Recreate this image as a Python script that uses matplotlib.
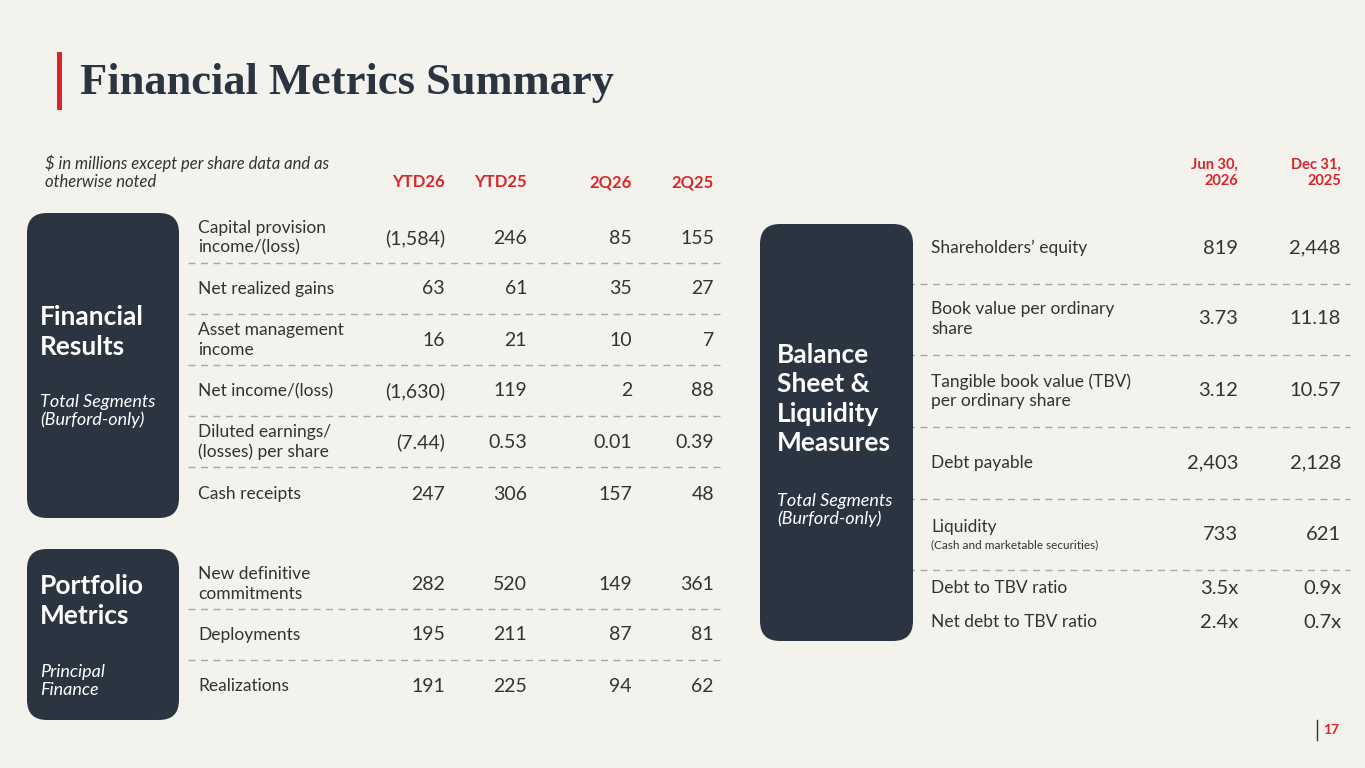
import matplotlib
matplotlib.use("Agg")
import matplotlib.pyplot as plt
from matplotlib.patches import FancyBboxPatch, Rectangle

BG = "#F4F2EC"
NAVY = "#2B3542"
RED = "#D9252A"
TXT = "#333333"
DASH = "#A8A8A8"
SANS = ["Lato", "DejaVu Sans"]

# ---- data ----
left_cols = ["YTD26", "YTD25", "2Q26", "2Q25"]
fin_labels = ["Capital provision\nincome/(loss)", "Net realized gains",
              "Asset management\nincome", "Net income/(loss)",
              "Diluted earnings/\n(losses) per share", "Cash receipts"]
fin_values = [["(1,584)", "246", "85", "155"],
              ["63", "61", "35", "27"],
              ["16", "21", "10", "7"],
              ["(1,630)", "119", "2", "88"],
              ["(7.44)", "0.53", "0.01", "0.39"],
              ["247", "306", "157", "48"]]
port_labels = ["New definitive\ncommitments", "Deployments", "Realizations"]
port_values = [["282", "520", "149", "361"],
               ["195", "211", "87", "81"],
               ["191", "225", "94", "62"]]

right_cols = ["Jun 30,\n2026", "Dec 31,\n2025"]
bs_labels = ["Shareholders\u2019 equity", "Book value per ordinary\nshare",
             "Tangible book value (TBV)\nper ordinary share", "Debt payable",
             "Liquidity", "Debt to TBV ratio", "Net debt to TBV ratio"]
bs_values = [["819", "2,448"], ["3.73", "11.18"], ["3.12", "10.57"],
             ["2,403", "2,128"], ["733", "621"], ["3.5x", "0.9x"], ["2.4x", "0.7x"]]

# ---- layout (pixel space) ----
fin_y = [238, 289, 340, 391, 442, 494]
fin_sep = [263, 314, 365, 416, 467]
port_y = [584, 635, 686]
port_sep = [609, 660]
left_col_x = [445, 527, 632, 714]
bs_y = [248, 319, 391, 463, 534, 588, 622]
bs_sep = [284, 355, 427, 499, 570]
right_col_x = [1238, 1341]

LAB = 12.5
VAL = 14

fig = plt.figure(figsize=(13.65, 7.68), dpi=100, facecolor=BG)
ax = fig.add_axes([0, 0, 1, 1])
ax.set_xlim(0, 1365)
ax.set_ylim(768, 0)
ax.axis("off")
ax.set_facecolor(BG)

# title
ax.add_patch(Rectangle((57, 52), 5, 58, color=RED, lw=0))
ax.text(80, 83, "Financial Metrics Summary", fontsize=32, fontweight="bold",
        family=["Liberation Serif", "DejaVu Serif"], color=NAVY, va="center",
        ha="left")


def box(x0, y0, x1, y1):
    ax.add_patch(FancyBboxPatch((x0, y0), x1 - x0, y1 - y0,
                                boxstyle="round,pad=0,rounding_size=20",
                                fc=NAVY, ec="none", zorder=2.5))


def dashes(x0, x1, y):
    ax.plot([x0, x1], [y, y], color=DASH, lw=1, ls=(0, (5, 4)), zorder=2)


# left header
ax.text(45, 172, "$ in millions except per share data and as\notherwise noted",
        fontsize=12, style="italic", family=SANS, color=TXT, va="center",
        linespacing=1.15)
for c, x in zip(left_cols, left_col_x):
    ax.text(x, 182, c, fontsize=12, fontweight="bold", family=SANS, color=RED,
            ha="right", va="center")

# financial results box
box(27, 213, 179, 518)
ax.text(40, 332, "Financial\nResults", fontsize=19, fontweight="bold", family=SANS,
        color="white", va="center", linespacing=1.27)
ax.text(40, 411, "Total Segments\n(Burford-only)", fontsize=13, style="italic",
        family=SANS, color="white", va="center", linespacing=1.1)

for lab, vals, y in zip(fin_labels, fin_values, fin_y):
    ax.text(198, y, lab, fontsize=LAB, family=SANS, color=TXT, va="center",
            linespacing=1.25)
    for v, x in zip(vals, left_col_x):
        ax.text(x, y, v, fontsize=VAL, family=SANS, color=TXT, ha="right",
                va="center")
for y in fin_sep:
    dashes(188, 720, y)

# portfolio box
box(27, 549, 179, 720)
ax.text(40, 601, "Portfolio\nMetrics", fontsize=19, fontweight="bold", family=SANS,
        color="white", va="center", linespacing=1.27)
ax.text(40, 681, "Principal\nFinance", fontsize=13, style="italic",
        family=SANS, color="white", va="center", linespacing=1.1)

for lab, vals, y in zip(port_labels, port_values, port_y):
    ax.text(198, y, lab, fontsize=LAB, family=SANS, color=TXT, va="center",
            linespacing=1.25)
    for v, x in zip(vals, left_col_x):
        ax.text(x, y, v, fontsize=VAL, family=SANS, color=TXT, ha="right",
                va="center")
for y in port_sep:
    dashes(188, 720, y)

# right side
for c, x in zip(right_cols, right_col_x):
    ax.text(x, 173, c, fontsize=10.5, fontweight="bold", family=SANS, color=RED,
            ha="right", va="center", multialignment="right", linespacing=1.2)

box(760, 224, 913, 641)
ax.text(777, 399, "Balance\nSheet &\nLiquidity\nMeasures", fontsize=19,
        fontweight="bold", family=SANS, color="white", va="center",
        linespacing=1.27)
ax.text(777, 510, "Total Segments\n(Burford-only)", fontsize=13, style="italic",
        family=SANS, color="white", va="center", linespacing=1.1)

for lab, vals, y in zip(bs_labels, bs_values, bs_y):
    ly = y - 7 if lab == "Liquidity" else y
    ax.text(931, ly, lab, fontsize=LAB, family=SANS, color=TXT, va="center",
            linespacing=1.25)
    if lab == "Liquidity":
        ax.text(931, y + 11, "(Cash and marketable securities)", fontsize=8.5,
                family=SANS, color=TXT, va="center")
    for v, x in zip(vals, right_col_x):
        ax.text(x, y, v, fontsize=14.5, family=SANS, color=TXT, ha="right",
                va="center")
for y in bs_sep:
    dashes(895, 1350, y)

# page number
ax.plot([1317, 1317], [720, 740], color=TXT, lw=1)
ax.text(1323, 730, "17", fontsize=10, fontweight="bold", family=SANS,
        color=RED, va="center")

fig.savefig("out.png", dpi=100, facecolor=BG)
